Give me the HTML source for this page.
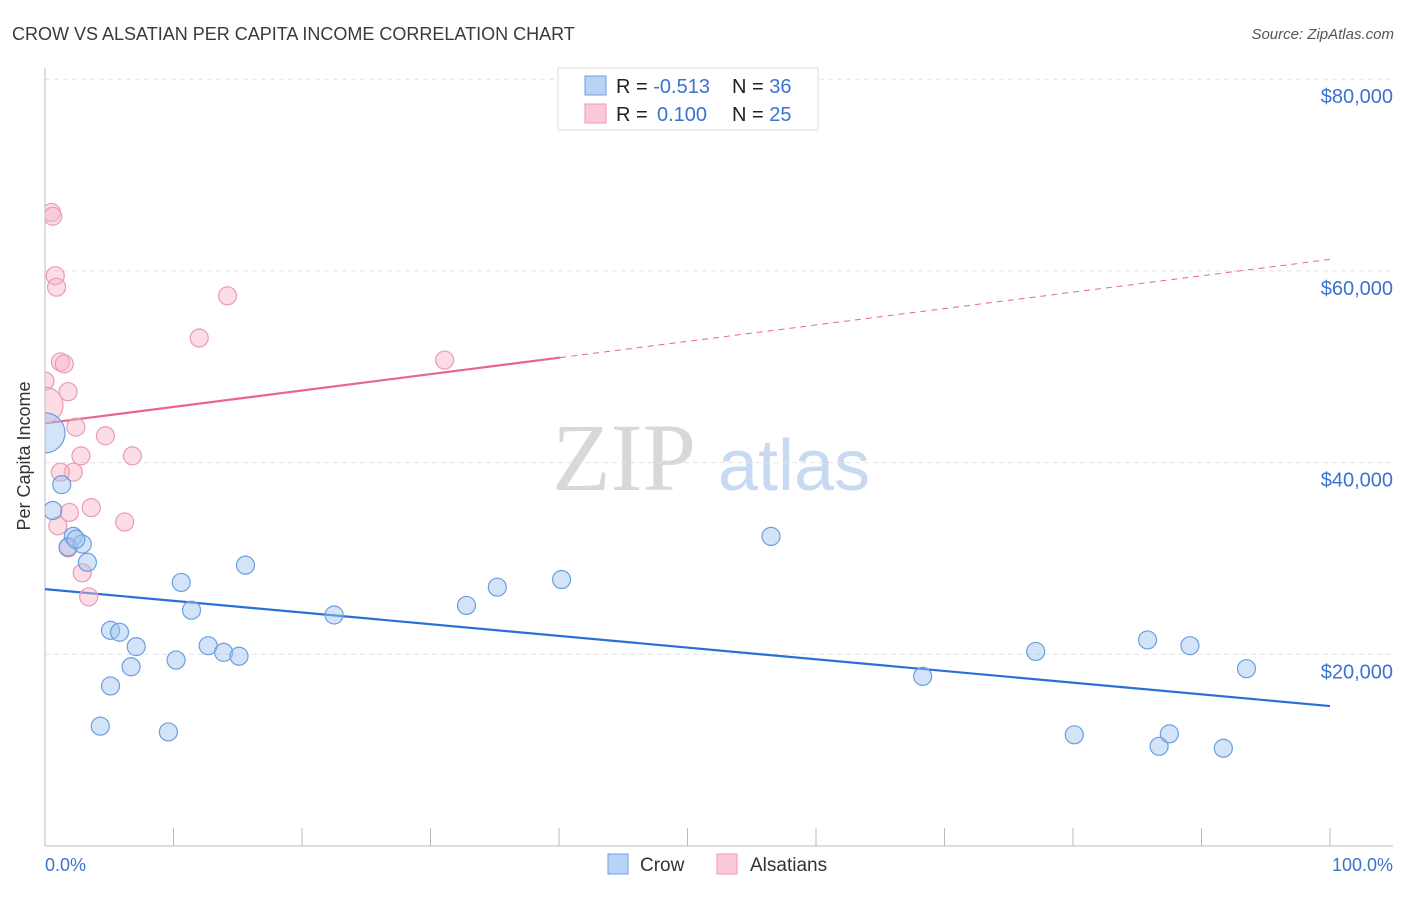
<!DOCTYPE html>
<html><head><meta charset="utf-8"><style>
body{margin:0;background:#fff;font-family:"Liberation Sans",sans-serif}
svg text{font-family:"Liberation Sans",sans-serif}
</style></head><body>
<svg id="c" width="1406" height="892">
<defs><clipPath id="plot"><rect x="45" y="60" width="1360" height="786"/></clipPath></defs>
<text x="12" y="40" font-size="18" fill="#3a3a3a">CROW VS ALSATIAN PER CAPITA INCOME CORRELATION CHART</text>
<text x="1394" y="39" font-size="15" fill="#555" font-style="italic" text-anchor="end">Source: ZipAtlas.com</text>
<text x="30" y="456" font-size="18" fill="#333" text-anchor="middle" transform="rotate(-90 30 456)">Per Capita Income</text>
<g><text x="552" y="490" font-size="96" fill="#d8d8d8" style="font-family:'Liberation Serif',serif">ZIP</text><text x="718" y="490" font-size="72" fill="#c8daf2">atlas</text></g>
<g id="grid"></g><g id="lines"></g><g id="pts" clip-path="url(#plot)"></g>
<g>
<rect x="558" y="68" width="260" height="62" fill="#fff" stroke="#ddd"/>
<rect x="585" y="76" width="21" height="19" fill="#b8d3f5" stroke="#6fa0e0"/>
<rect x="585" y="104" width="21" height="19" fill="#fcc9d8" stroke="#ee9ab4"/>
<text x="616" y="93" font-size="20" fill="#222">R = <tspan fill="#3a73d0">-0.513</tspan><tspan x="732">N = </tspan><tspan fill="#3a73d0">36</tspan></text>
<text x="616" y="121" font-size="20" fill="#222">R = <tspan x="657" fill="#3a73d0">0.100</tspan><tspan x="732">N = </tspan><tspan fill="#3a73d0">25</tspan></text>
</g>
<g>
<rect x="608" y="854" width="20" height="20" fill="#b8d3f5" stroke="#6fa0e0"/>
<text x="640" y="871" font-size="19" fill="#333">Crow</text>
<rect x="717" y="854" width="20" height="20" fill="#fcc9d8" stroke="#ee9ab4"/>
<text x="750" y="871" font-size="19" fill="#333">Alsatians</text>
</g>
<text x="45" y="871" font-size="18" fill="#3a73d0">0.0%</text>
<text x="1393" y="871" font-size="18" fill="#3a73d0" text-anchor="end">100.0%</text>
</svg>
<script>
const yTicks=[20,40,60,80];
const yTickLabels=["$20,000","$40,000","$60,000","$80,000"];
const xTicks=[0,10,20,30,40,50,60,70,80,90,100];
const crowX=[0,1.3,0.6,2.2,1.8,2.9,2.4,3.3,5.1,5.8,7.1,6.7,5.1,4.3,9.6,10.2,10.6,11.4,12.7,13.9,15.1,15.6,22.5,32.8,35.2,40.2,56.5,68.3,77.1,80.1,85.8,86.7,87.5,89.1,91.7,93.5];
const crowY=[43.1,37.7,35.0,32.3,31.2,31.5,32.0,29.6,22.5,22.3,20.8,18.7,16.7,12.5,11.9,19.4,27.5,24.6,20.9,20.2,19.8,29.3,24.1,25.1,27.0,27.8,32.3,17.7,20.3,11.6,21.5,10.4,11.7,20.9,10.2,18.5];
const alsX=[0.5,0.6,0.8,0.9,0,0,1.2,1.5,1.8,2.4,2.8,2.2,1.2,1.9,1.0,3.6,4.7,6.8,6.2,1.8,2.9,3.4,12.0,14.2,31.1];
const alsY=[66.1,65.7,59.5,58.3,48.5,46.0,50.5,50.3,47.4,43.7,40.7,39.0,39.0,34.8,33.4,35.3,42.8,40.7,33.8,31.1,28.5,26.0,53.0,57.4,50.7];
const crowTrend=[26.8,14.6];
const alsTrend=[44.1,61.2];
const alsSolidEnd=40.1;
const NS="http://www.w3.org/2000/svg";
const X=v=>45+v*12.85, Y=v=>846-v*9.585;
function mk(t,a,p){const e=document.createElementNS(NS,t);for(const k in a)e.setAttribute(k,a[k]);p.appendChild(e);return e;}
const grid=document.getElementById('grid'),lines=document.getElementById('lines'),pts=document.getElementById('pts');
yTicks.forEach((v,i)=>{
 const l=mk('line',{x1:45,x2:1393,y1:Y(v),y2:Y(v),stroke:'#e2e2e2','stroke-dasharray':'5,4'},grid);
 
 
 const t=mk('text',{x:1393,y:Y(v)+24,'font-size':20,fill:'#3a73d0','text-anchor':'end'},grid);
 t.textContent=yTickLabels[i];
 
 
});
const ax=mk('line',{x1:45,x2:1393,y1:846,y2:846,stroke:'#bbb'},grid);


const ay=mk('line',{x1:45,x2:45,y1:68,y2:846,stroke:'#bbb'},grid);


xTicks.forEach(v=>{
 const t=mk('line',{x1:X(v),x2:X(v),y1:828,y2:846,stroke:'#bbb'},grid);
 
 
});
function dot(x,y,r,fill,stroke,name){
 const c=mk('circle',{cx:X(x),cy:Y(y),r:r,fill:fill,stroke:stroke,'stroke-width':1.2},pts);
 
 
}
alsX.forEach((x,i)=>dot(x,alsY[i],i==5?18:9,'rgba(248,180,200,0.45)','#ec9ab4','alsatian-point'));
crowX.forEach((x,i)=>dot(x,crowY[i],i==0?20:9,'rgba(160,196,240,0.45)','#6a9ee0','crow-point'));
const cl=mk('line',{x1:X(0),y1:Y(crowTrend[0]),x2:X(100),y2:Y(crowTrend[1]),stroke:'#2a6fd6','stroke-width':2.2},lines);


const aAt=v=>alsTrend[0]+(alsTrend[1]-alsTrend[0])*v/100;
const al=mk('line',{x1:X(0),y1:Y(alsTrend[0]),x2:X(alsSolidEnd),y2:Y(aAt(alsSolidEnd)),stroke:'#e8658f','stroke-width':2.2},lines);


const ad=mk('line',{x1:X(alsSolidEnd),y1:Y(aAt(alsSolidEnd)),x2:X(100),y2:Y(alsTrend[1]),stroke:'#e8658f','stroke-width':1,'stroke-dasharray':'6,5'},lines);


</script>
</body></html>
